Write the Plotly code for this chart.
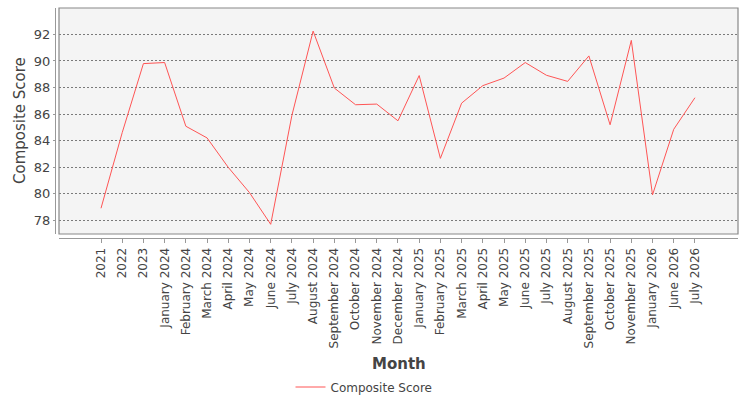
import plotly.graph_objects as go

months = ["2021", "2022", "2023", "January 2024", "February 2024", "March 2024", "April 2024",
          "May 2024", "June 2024", "July 2024", "August 2024", "September 2024", "October 2024",
          "November 2024", "December 2024", "January 2025", "February 2025", "March 2025",
          "April 2025", "May 2025", "June 2025", "July 2025", "August 2025", "September 2025",
          "October 2025", "November 2025", "January 2026", "June 2026", "July 2026"]
scores = [78.9, 84.6, 89.8, 89.88, 85.08, 84.2, 81.98, 80.08, 77.69, 85.9, 92.25, 87.96, 86.7,
          86.75, 85.49, 88.9, 82.66, 86.82, 88.14, 88.71, 89.88, 88.92, 88.46, 90.38, 85.19,
          91.55, 79.91, 84.85, 87.23]
y_ticks = [78, 80, 82, 84, 86, 88, 90, 92]

FONT = "DejaVu Sans"
fig = go.Figure()
fig.add_trace(go.Scatter(x=months, y=scores, mode="lines", name="Composite Score",
                         line=dict(color="#ff5555", width=1)))

W, H = 750, 400
ml, mr, mt, mb = 55, 12, 8, 162
pw = W - ml - mr
ph = H - mt - mb

fig.update_layout(
    width=W, height=H,
    margin=dict(l=ml, r=mr, t=mt, b=mb),
    paper_bgcolor="white", plot_bgcolor="#f4f4f4",
    font=dict(family=FONT, color="#444444", size=12),
    showlegend=True,
    legend=dict(orientation="h", xref="container", x=0.5 - 11 / W, xanchor="center",
                yref="container", y=(400 - 387) / 400, yanchor="middle",
                font=dict(size=12, color="#444444")),
    xaxis=dict(type="category", domain=[4 / pw, 1], anchor="free", position=0,
               range=[-1.98, 30.03], showgrid=False, showline=True, linecolor="#999999",
               ticks="outside", ticklen=4, tickcolor="#999999", tickangle=-90,
               tickfont=dict(size=12, color="#444444"), zeroline=False),
    yaxis=dict(domain=[4 / ph, 1], anchor="free", position=0, range=[76.96, 93.99],
               tickvals=y_ticks, showline=True, linecolor="#999999",
               ticks="outside", ticklen=2, tickcolor="#999999",
               tickfont=dict(size=13, color="#444444"),
               showgrid=True, gridcolor="#7a7a7a", gridwidth=1, griddash="2px,2px",
               zeroline=False),
)
fig.add_shape(type="rect", xref="x domain", yref="y domain", x0=0, x1=1, y0=0, y1=1,
              line=dict(color="#888888", width=1.2), fillcolor="rgba(0,0,0,0)", layer="above")
fig.add_annotation(text="<b>Month</b>", xref="x domain", yref="paper", x=0.5,
                   y=-(364 - (H - mb)) / ph, showarrow=False, yanchor="middle",
                   font=dict(size=15, color="#444444", family=FONT))
fig.add_annotation(text="Composite Score", xref="paper", yref="y domain",
                   x=(20 - ml) / pw, y=0.5, showarrow=False, textangle=-90,
                   xanchor="center", yanchor="middle",
                   font=dict(size=15, color="#444444", family=FONT))

fig.write_html("out.html")
